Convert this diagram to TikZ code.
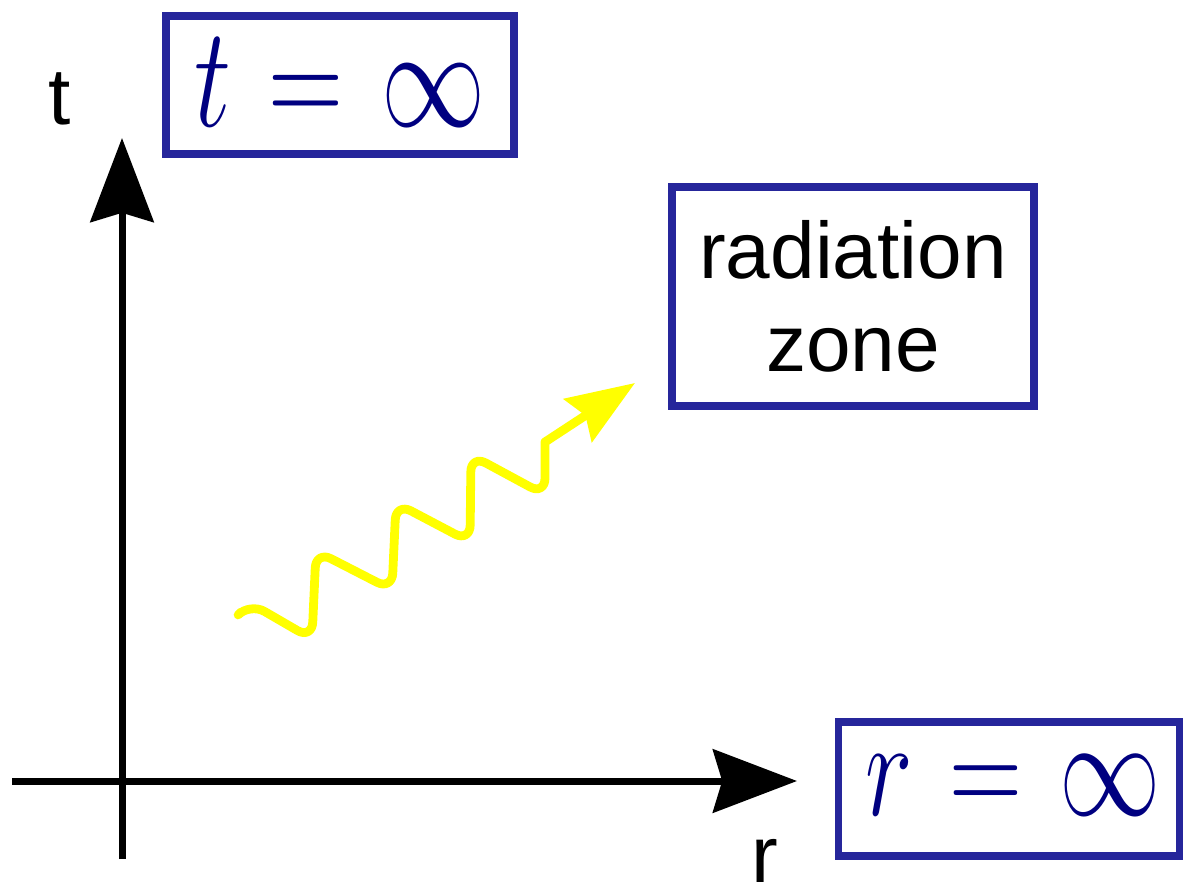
\RequirePackage{fix-cm}
\documentclass[tikz,border=0pt]{standalone}
\usepackage{fontspec}
\setmainfont{Liberation Sans}
\usepackage{graphicx}
\usetikzlibrary{arrows.meta}
\definecolor{boxblue}{RGB}{38,38,155}
\definecolor{mathblue}{RGB}{0,0,128}
\definecolor{wavey}{RGB}{255,255,0}
\tikzset{
  axisline/.style={line width=0.175cm, black,
    -{Stealth[length=2.1cm,width=1.58cm,inset=0.23cm]}},
  mathbox/.style={draw=boxblue, line width=0.19cm, inner sep=0pt, text=mathblue},
  textbox/.style={draw=boxblue, line width=0.19cm, inner sep=0pt, align=center,
    font=\fontsize{57}{66.2}\selectfont},
  axislabel/.style={anchor=base, inner sep=0pt, font=\fontsize{57}{66}\selectfont},
  wave/.style={wavey, line width=0.22cm, line cap=round, line join=round,
    rounded corners=0.42cm,
    -{Stealth[length=1.7cm,width=1.27cm,inset=0.22cm]}}
}
\newcommand{\bigmath}[2]{{\fontsize{#1}{80}\selectfont\scalebox{1}[1.38]{$#2$}}}
\begin{document}
\begin{tikzpicture}[x=0.025cm,y=-0.025cm]
\useasboundingbox (0,0) rectangle (1188,885);
% axes
\coordinate (ybot) at (122,859);
\coordinate (ytop) at (122,138);
\coordinate (xleft) at (12,781);
\coordinate (xright) at (797,781);
\draw[axisline] (ybot) -- (ytop);
\draw[axisline] (xleft) -- (xright);
\node[axislabel] (tlabel) at (60,125) {t};
\node[axislabel] (rlabel) at (765,882) {r};
% boxes
\node[mathbox, minimum width=8.7cm, minimum height=3.45cm,
      text height=2.1cm, text depth=0.05cm] (tinf) at (340,85)
  {\bigmath{74}{t\mkern1.5mu=\mkern1.5mu\infty}};
\node[mathbox, minimum width=8.525cm, minimum height=3.35cm,
      text height=1.35cm, text depth=0.05cm] (rinf) at (1009,789)
  {\hspace{0.2cm}\bigmath{72}{r\mkern1.5mu=\mkern1.5mu\infty}};
\node[textbox, minimum width=9.05cm, minimum height=5.475cm] (zone) at (853,296.5)
  {radiation\\zone};
% wave
\coordinate (wstart) at (241,612);
\coordinate (wend) at (635,383);
\draw[wave] (wstart) -- (250,603) -- (312,639) -- (316,551) -- (392,590) -- (396,503)
  -- (470,542) -- (471,455) -- (545,495) [sharp corners] -- (545,442) -- (wend);
\end{tikzpicture}
\end{document}
